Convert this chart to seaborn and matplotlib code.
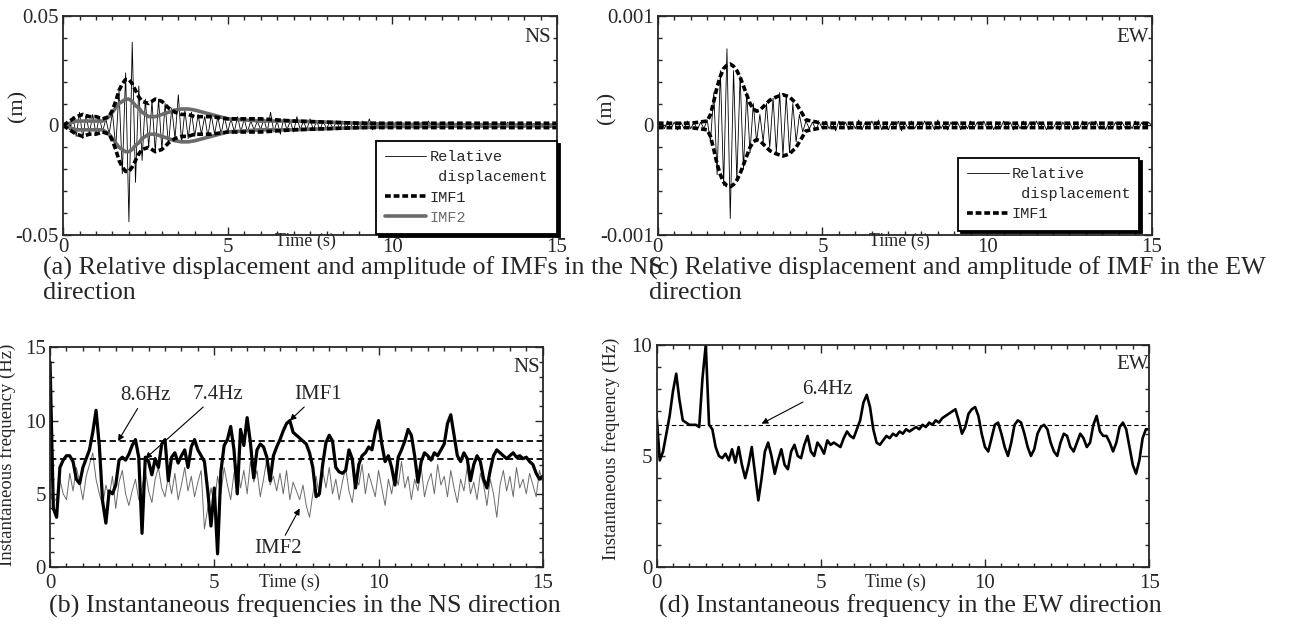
import numpy as np
import seaborn as sns
import matplotlib.pyplot as plt
from matplotlib.lines import Line2D
from matplotlib.ticker import MultipleLocator

# =========================
# Data
# =========================
# time grid of the sampled curves, 0 - 15 s every 0.1 s
t = np.round(np.arange(0, 151) * 0.1, 1)

# (a) NS relative displacement (m)
disp_ns = [
    0.0, 0.001, -0.002, 0.004, -0.005, 0.006, -0.006, 0.005, -0.004, 0.005,
    -0.004, 0.004, -0.003, 0.003, -0.004, 0.006, -0.010, 0.016, -0.022, 0.024,
    -0.044, 0.038, -0.026, 0.018, -0.016, 0.012, -0.010, 0.011, -0.012, 0.012,
    -0.011, 0.010, -0.009, 0.008, -0.006, 0.014, -0.008, 0.007, -0.006, 0.006,
    -0.005, 0.005, -0.004, 0.004, -0.005, 0.005, -0.004, 0.004, -0.004, 0.004,
    -0.003, 0.003, -0.003, 0.004, -0.003, 0.003, -0.003, 0.002, -0.002, 0.002,
    -0.002, 0.003, -0.003, 0.006, -0.003, 0.002, -0.004, 0.003, -0.002, 0.002,
    -0.003, 0.004, -0.002, 0.002, -0.002, 0.003, -0.002, 0.002, -0.002, 0.002,
    -0.0015, 0.0015, -0.0015, 0.002, -0.0015, 0.0015, -0.001, 0.0015, -0.001, 0.001,
    -0.0015, 0.002, -0.0015, 0.003, -0.002, 0.0015, -0.001, 0.0015, -0.001, 0.001,
    -0.001, 0.0015, -0.001, 0.001, -0.0015, 0.001, -0.001, 0.0015, -0.001, 0.0015,
    -0.0015, 0.002, -0.001, 0.001, -0.001, 0.001, -0.001, 0.0015, -0.001, 0.001,
    -0.001, 0.001, -0.001, 0.0015, -0.001, 0.001, -0.001, 0.001, -0.0015, 0.001,
    -0.001, 0.001, -0.001, 0.001, -0.001, 0.0015, -0.001, 0.001, -0.001, 0.001,
    -0.001, 0.001, -0.001, 0.001, -0.0015, 0.001, -0.001, 0.001, -0.001, 0.001,
    -0.001,
]

# (a) IMF amplitudes in NS (m)
env_t_ns = [0, 0.2, 0.4, 0.6, 0.8, 1.0, 1.2, 1.4,
            1.5, 1.6, 1.7, 1.8, 1.9, 2.0, 2.1, 2.2, 2.3, 2.4,
            2.6, 2.8, 3.0, 3.2, 3.4, 3.6, 3.8, 4.0,
            4.5, 5.0, 5.5, 6.0,
            7.0, 8.0, 9.0, 10.0, 11.0, 12.0, 13.0, 14.0, 15.0]
imf1_amp_ns = [0.0, 0.002, 0.004, 0.005, 0.004, 0.004, 0.003, 0.004,
               0.007, 0.011, 0.016, 0.019, 0.021, 0.021, 0.019, 0.016, 0.013, 0.011,
               0.010, 0.012, 0.011, 0.008, 0.006, 0.005, 0.005, 0.004,
               0.004, 0.003, 0.003, 0.003,
               0.002, 0.0015, 0.001, 0.001, 0.001, 0.001, 0.001, 0.001, 0.001]
imf2_amp_ns = [0.0, 0.001, 0.002, 0.002, 0.002, 0.002, 0.002, 0.004,
               0.006, 0.008, 0.010, 0.011, 0.012, 0.012, 0.011, 0.009, 0.008, 0.006,
               0.004, 0.004, 0.005, 0.006, 0.007, 0.0075, 0.0075, 0.007,
               0.005, 0.003, 0.0025, 0.002,
               0.002, 0.0015, 0.001, 0.0005, 0.0005, 0.0003, 0.0003, 0.0002, 0.0002]

# (c) EW relative displacement (m)
disp_ew = [
    0.0, 0.00003, -0.00003, 0.00004, -0.00003, 0.00003, -0.00004, 0.00003, -0.00003, 0.00004,
    -0.00003, 0.00003, -0.00004, 0.00003, -0.00003, 0.00005, -0.00015, 0.0003, -0.00045, 0.0005,
    -0.00055, 0.0007, -0.00085, 0.0005, -0.0005, 0.00045, -0.0004, 0.0003, -0.00025, 0.0002,
    -0.00015, 0.0001, -0.00015, 0.0002, -0.0002, 0.00025, -0.00025, 0.0003, -0.00028, 0.00028,
    -0.00025, 0.0002, -0.00015, 0.0001, -0.00006, 0.00004, -0.00003, 0.00003, -0.00004, 0.00003,
    -0.00003, 0.00004, -0.00003, 0.00003, -0.00005, 0.00004, -0.00003, 0.00003, -0.00004, 0.00003,
    -0.00003, 0.00005, -0.00004, 0.00003, -0.00003, 0.00004, -0.00003, 0.00005, -0.00004, 0.00003,
    -0.00004, 0.00003, -0.00003, 0.00004, -0.00005, 0.00003, -0.00003, 0.00004, -0.00003, 0.00003,
    -0.00003, 0.00004, -0.00003, 0.00003, -0.00004, 0.00005, -0.00003, 0.00003, -0.00004, 0.00003,
    -0.00003, 0.00003, -0.00004, 0.00003, -0.00003, 0.00004, -0.00003, 0.00003, -0.00003, 0.00004,
    -0.00003, 0.00003, -0.00004, 0.00003, -0.00003, 0.00004, -0.00003, 0.00003, -0.00004, 0.00003,
    -0.00003, 0.00004, -0.00003, 0.00003, -0.00003, 0.00004, -0.00003, 0.00003, -0.00004, 0.00003,
    -0.00003, 0.00003, -0.00004, 0.00003, -0.00003, 0.00003, -0.00004, 0.00003, -0.00003, 0.00004,
    -0.00003, 0.00003, -0.00003, 0.00004, -0.00003, 0.00003, -0.00004, 0.00003, -0.00003, 0.00003,
    -0.00004, 0.00003, -0.00003, 0.00003, -0.00003, 0.00004, -0.00003, 0.00003, -0.00003, 0.00003,
    0.0,
]

# (c) IMF1 amplitude in EW (m)
env_t_ew = [0, 0.5, 1.0, 1.5,
            1.6, 1.7, 1.8, 1.9, 2.0, 2.1, 2.2, 2.3, 2.4, 2.5,
            2.6, 2.7, 2.8, 2.9, 3.0, 3.1, 3.2, 3.3, 3.4,
            3.6, 3.8, 4.0, 4.2, 4.4, 4.5,
            5.0, 6.0, 7.0, 8.0, 9.0, 10.0, 11.0, 12.0, 13.0, 14.0, 15.0]
imf1_amp_ew = [0.00002, 0.00002, 0.00002, 0.00004,
               0.0001, 0.00022, 0.00035, 0.00045, 0.00052, 0.00055, 0.00056, 0.00054, 0.0005, 0.00044,
               0.00036, 0.00028, 0.0002, 0.00015, 0.00013, 0.00014, 0.00017, 0.0002, 0.00023,
               0.00026, 0.00028, 0.00026, 0.0002, 0.0001, 0.00005,
               0.00002, 0.00002, 0.00002, 0.00002, 0.00002, 0.00002, 0.00002, 0.00002,
               0.00002, 0.00002, 0.00002]

# (b) instantaneous frequencies NS (Hz)
freq_imf1_ns = [
    14.0, 4.0, 3.4, 6.8, 7.3, 7.6, 7.6, 7.2, 6.0, 5.7,
    6.8, 7.4, 8.0, 9.2, 10.7, 8.3, 4.5, 3.0, 5.2, 5.0,
    5.6, 7.3, 7.5, 7.3, 7.7, 8.3, 8.7, 7.5, 2.3, 7.5,
    7.2, 6.3, 7.4, 6.8, 8.4, 8.7, 5.9, 7.5, 7.8, 7.1,
    7.6, 8.0, 6.8, 8.2, 8.7, 8.0, 7.6, 7.2, 5.2, 2.8,
    5.4, 0.9, 6.5, 8.3, 8.7, 9.6, 8.0, 5.0, 9.4, 8.3,
    10.2, 8.5, 6.1, 8.0, 8.4, 8.2, 7.5, 5.9, 7.6, 8.2,
    8.7, 9.3, 9.8, 10.0, 9.2, 9.0, 8.8, 8.6, 8.4, 7.8,
    6.8, 4.8, 5.0, 7.0, 8.5, 9.0, 8.6, 6.8, 6.5, 6.4,
    6.6, 8.0, 7.4, 5.4, 7.0, 7.6, 7.8, 8.2, 8.0, 9.2,
    10.0, 8.4, 7.2, 7.6, 6.8, 5.6, 7.5, 8.0, 8.6, 9.4,
    9.0, 7.6, 5.8, 7.2, 7.8, 7.6, 7.3, 7.8, 7.6, 8.0,
    8.4, 9.8, 10.4, 9.0, 7.6, 7.2, 7.8, 7.4, 5.9, 7.0,
    7.6, 7.2, 6.0, 5.4, 6.6, 7.6, 8.0, 7.8, 7.6, 7.4,
    7.6, 7.8, 7.5, 7.6, 7.4, 7.5, 7.2, 7.0, 6.4, 6.0,
    6.2,
]
freq_imf2_ns = [
    5.0, 4.4, 4.7, 6.0, 5.0, 4.6, 6.4, 5.2, 6.8, 5.8,
    4.6, 6.2, 7.0, 7.8, 6.0, 5.0, 4.2, 5.6, 4.8, 6.2,
    4.0, 5.8, 6.6, 5.0, 4.2, 5.2, 6.0, 4.6, 5.4, 6.6,
    5.2, 4.4, 6.0, 6.8, 5.4, 4.8, 6.2, 5.0, 6.4, 4.6,
    5.6, 6.8, 5.2, 6.2, 4.8, 5.8, 6.6, 2.6, 4.0, 5.4,
    4.2, 6.2, 5.0, 6.8, 5.6, 4.6, 6.4, 7.0, 5.4, 6.6,
    5.0, 7.2, 5.8, 6.6, 4.8, 6.0, 7.4, 5.6, 6.2, 5.2,
    6.4, 5.0, 6.6, 4.6, 5.8, 5.2, 4.6, 5.6, 4.2, 3.4,
    5.0, 6.2, 4.8, 6.6, 5.4, 6.8, 5.0, 6.0, 4.6, 5.8,
    6.8, 5.2, 4.4, 6.2, 5.6, 7.0, 5.0, 6.4, 5.6, 4.8,
    6.6, 5.4, 4.2, 6.0, 5.0, 6.4, 5.6, 7.2, 5.4, 6.2,
    4.6, 6.0, 5.2, 6.8, 4.8, 5.8, 6.4, 5.0, 7.0, 5.6,
    6.2, 4.8, 6.6, 5.4, 4.4, 6.0, 5.2, 6.8, 5.0, 5.8,
    4.6, 6.4, 5.6, 4.2, 6.0, 5.0, 3.4, 5.6, 6.6, 5.2,
    6.2, 4.8, 6.8, 5.4, 6.0, 5.0, 6.4, 5.6, 4.8, 6.6,
    5.8,
]
ref_ns = [8.6, 7.4]

# (d) instantaneous frequency EW (Hz)
freq_imf1_ew = [
    6.9, 4.8, 5.2, 6.0, 6.8, 7.9, 8.7, 7.5, 6.6, 6.5,
    6.4, 6.4, 6.4, 6.3, 8.5, 10.0, 6.4, 6.2, 5.4, 5.0,
    4.9, 5.1, 4.8, 5.3, 4.7, 5.4, 4.6, 4.0, 4.6, 5.4,
    4.2, 3.0, 4.0, 5.2, 5.6, 5.0, 4.2, 4.8, 5.3, 4.6,
    4.4, 5.2, 5.5, 5.0, 4.9, 5.5, 5.9, 5.2, 5.0, 5.6,
    5.4, 5.1, 5.7, 5.5, 5.6, 5.5, 5.4, 5.8, 6.1, 5.9,
    5.8, 6.2, 6.6, 7.4, 7.75, 7.2, 6.2, 5.6, 5.5, 5.7,
    5.9, 5.8, 6.0, 5.9, 6.1, 6.0, 6.2, 6.1, 6.2, 6.3,
    6.2, 6.4, 6.3, 6.5, 6.4, 6.6, 6.5, 6.7, 6.8, 6.9,
    7.0, 7.1, 6.6, 6.0, 6.3, 6.9, 7.1, 7.2, 6.8, 6.0,
    5.4, 5.2, 5.8, 6.4, 6.5, 6.0, 5.4, 5.0, 5.6, 6.4,
    6.6, 6.5, 6.0, 5.4, 5.0, 5.3, 6.0, 6.3, 6.4, 6.2,
    5.6, 5.2, 5.0, 5.6, 6.0, 5.9, 5.4, 5.2, 5.6, 6.0,
    5.8, 5.4, 5.6, 6.4, 6.8, 6.1, 5.9, 5.9, 5.6, 5.2,
    5.6, 6.3, 6.5, 6.2, 5.4, 4.6, 4.2, 4.8, 5.8, 6.2,
    6.2,
]
ref_ew = 6.4

# =========================
# Style
# =========================
sns.set_style("ticks")
plt.rcParams["font.family"] = ["Liberation Serif", "DejaVu Serif"]
plt.rcParams["axes.linewidth"] = 1.3
plt.rcParams["xtick.direction"] = "in"
plt.rcParams["ytick.direction"] = "in"

GRAY = "#6b6b6b"
TICK_FS = 15
LABEL_FS = 15
CAP_FS = 18.8


def style_axes(ax, ymin, ymax, ymajor, yminor):
    ax.set_xlim(0, 15)
    ax.set_ylim(ymin, ymax)
    ax.xaxis.set_major_locator(MultipleLocator(5))
    ax.xaxis.set_minor_locator(MultipleLocator(0.5))
    ax.yaxis.set_major_locator(MultipleLocator(ymajor))
    ax.yaxis.set_minor_locator(MultipleLocator(yminor))
    ax.tick_params(which="both", direction="in", top=True, right=True,
                   labelsize=TICK_FS, width=1.0)
    ax.tick_params(which="major", length=6, pad=3)
    ax.tick_params(which="minor", length=3)
    ax.set_xlabel("")
    ax.set_ylabel("")


fig = plt.figure(figsize=(13, 6.35), dpi=100)

ax_a = fig.add_axes([0.0485, 0.630, 0.380, 0.345])
ax_c = fig.add_axes([0.506, 0.630, 0.380, 0.345])
ax_b = fig.add_axes([0.0385, 0.107, 0.379, 0.346])
ax_d = fig.add_axes([0.505, 0.107, 0.379, 0.350])

leg_kw = dict(loc="lower right", borderaxespad=0,
              prop={"family": "Liberation Mono", "size": 11}, frameon=True,
              fancybox=False, edgecolor="k", framealpha=1, handlelength=2.7,
              handletextpad=0.2, labelspacing=0.4, borderpad=0.6,
              shadow={"color": "k", "alpha": 1})
# second line of "Relative displacement" has no line of its own
blank = Line2D([], [], color="none")

# =========================
# (a) NS displacement
# =========================
sns.lineplot(x=t, y=disp_ns, ax=ax_a, color="k", lw=0.6, estimator=None, sort=False)
h_disp = ax_a.lines[-1]
sns.lineplot(x=env_t_ns, y=imf2_amp_ns, ax=ax_a, color=GRAY, lw=2.6, estimator=None)
h_imf2 = ax_a.lines[-1]
sns.lineplot(x=env_t_ns, y=[-v for v in imf2_amp_ns], ax=ax_a, color=GRAY, lw=2.6, estimator=None)
sns.lineplot(x=env_t_ns, y=imf1_amp_ns, ax=ax_a, color="k", lw=2.6, estimator=None)
h_imf1 = ax_a.lines[-1]
h_imf1.set_dashes([1.6, 0.8])
sns.lineplot(x=env_t_ns, y=[-v for v in imf1_amp_ns], ax=ax_a, color="k", lw=2.6, estimator=None)
ax_a.lines[-1].set_dashes([1.6, 0.8])

style_axes(ax_a, -0.05, 0.05, 0.05, 0.01)
ax_a.set_yticks([-0.05, 0, 0.05])
ax_a.set_yticklabels(["-0.05", "0", "0.05"])
ax_a.set_xticks([0, 5, 10, 15])
ax_a.set_xticklabels(["0", "5", "10", "15"])
ax_a.text(0.96, 0.90, "NS", transform=ax_a.transAxes, ha="center", va="center", fontsize=LABEL_FS)

leg = ax_a.legend([h_disp, blank, h_imf1, h_imf2],
                  ["Relative", " displacement", "IMF1", "IMF2"],
                  bbox_to_anchor=(1.0, 0.005), **leg_kw)
leg.get_frame().set_linewidth(1.3)
leg.get_texts()[3].set_color(GRAY)

# =========================
# (c) EW displacement
# =========================
sns.lineplot(x=t, y=disp_ew, ax=ax_c, color="k", lw=0.6, estimator=None, sort=False)
h_disp_c = ax_c.lines[-1]
sns.lineplot(x=env_t_ew, y=imf1_amp_ew, ax=ax_c, color="k", lw=2.6, estimator=None)
h_imf1_c = ax_c.lines[-1]
h_imf1_c.set_dashes([1.6, 0.8])
sns.lineplot(x=env_t_ew, y=[-v for v in imf1_amp_ew], ax=ax_c, color="k", lw=2.6, estimator=None)
ax_c.lines[-1].set_dashes([1.6, 0.8])

style_axes(ax_c, -0.001, 0.001, 0.001, 0.0002)
ax_c.set_yticks([-0.001, 0, 0.001])
ax_c.set_yticklabels(["-0.001", "0", "0.001"])
ax_c.set_xticks([0, 5, 10, 15])
ax_c.set_xticklabels(["0", "5", "10", "15"])
ax_c.text(0.962, 0.90, "EW", transform=ax_c.transAxes, ha="center", va="center", fontsize=LABEL_FS)

leg_c = ax_c.legend([h_disp_c, blank, h_imf1_c], ["Relative", " displacement", "IMF1"],
                    bbox_to_anchor=(0.975, 0.02), **leg_kw)
leg_c.get_frame().set_linewidth(1.3)

for ax in (ax_a, ax_c):
    ax.text(0.49, -0.03, "Time (s)", transform=ax.transAxes, ha="center", va="center",
            fontsize=13)
    ax.set_ylabel("(m)", fontsize=16)
    ax.tick_params(axis="x", pad=2)
ax_a.yaxis.set_label_coords(-0.073, 0.59)
ax_c.yaxis.set_label_coords(-0.083, 0.58)

# =========================
# (b) NS instantaneous frequency
# =========================
sns.lineplot(x=t, y=freq_imf2_ns, ax=ax_b, color=GRAY, lw=0.7, estimator=None, sort=False)
sns.lineplot(x=t, y=freq_imf1_ns, ax=ax_b, color="k", lw=2.3, estimator=None, sort=False)
for r in ref_ns:
    ax_b.axhline(r, color="k", lw=1.3, ls=(0, (3.5, 2)))

style_axes(ax_b, 0, 15, 5, 1)
ax_b.set_yticks([0, 5, 10, 15])
ax_b.set_xticks([0, 5, 10, 15])
ax_b.text(0.968, 0.91, "NS", transform=ax_b.transAxes, ha="center", va="center", fontsize=LABEL_FS)

arrow = dict(arrowstyle="-|>", color="k", lw=0.8, mutation_scale=9, shrinkA=0, shrinkB=0)
ax_b.annotate("8.6Hz", xy=(2.07, 8.6), xytext=(2.9, 11.7), ha="center", va="center",
              fontsize=LABEL_FS, arrowprops=arrow)
ax_b.annotate("7.4Hz", xy=(2.9, 7.4), xytext=(5.1, 11.8), ha="center", va="center",
              fontsize=LABEL_FS, arrowprops=arrow)
ax_b.annotate("IMF1", xy=(7.3, 10.0), xytext=(8.15, 11.8), ha="center", va="center",
              fontsize=LABEL_FS, arrowprops=arrow)
ax_b.annotate("IMF2", xy=(7.6, 4.0), xytext=(6.95, 1.3), ha="center", va="center",
              fontsize=LABEL_FS, arrowprops=arrow)

# =========================
# (d) EW instantaneous frequency
# =========================
sns.lineplot(x=t, y=freq_imf1_ew, ax=ax_d, color="k", lw=1.9, estimator=None, sort=False)
ax_d.axhline(ref_ew, color="k", lw=0.8, ls=(0, (4, 2.5)))

style_axes(ax_d, 0, 10, 5, 1)
ax_d.set_yticks([0, 5, 10])
ax_d.set_xticks([0, 5, 10, 15])
ax_d.text(0.966, 0.91, "EW", transform=ax_d.transAxes, ha="center", va="center", fontsize=LABEL_FS)
ax_d.annotate("6.4Hz", xy=(3.2, 6.45), xytext=(5.2, 8.0), ha="center", va="center",
              fontsize=LABEL_FS, arrowprops=arrow)

for ax in (ax_b, ax_d):
    ax.text(0.485, -0.07, "Time (s)", transform=ax.transAxes, ha="center", va="center",
            fontsize=13)
    ax.set_ylabel("Instantaneous frequency (Hz)", fontsize=13.5)
    ax.tick_params(axis="x", pad=5)
ax_b.yaxis.set_label_coords(-0.069, 0.51)
ax_d.yaxis.set_label_coords(-0.075, 0.53)

# =========================
# Captions
# =========================
fig.text(0.033, 1 - 268 / 635, "(a) Relative displacement and amplitude of IMFs in the NS",
         fontsize=CAP_FS, va="center")
fig.text(0.033, 1 - 293 / 635, "direction", fontsize=CAP_FS, va="center")
fig.text(0.4995, 1 - 268 / 635, "(c) Relative displacement and amplitude of IMF in the EW",
         fontsize=CAP_FS, va="center")
fig.text(0.4995, 1 - 293 / 635, "direction", fontsize=CAP_FS, va="center")
fig.text(0.038, 1 - 606 / 635, "(b) Instantaneous frequencies in the NS direction",
         fontsize=CAP_FS, va="center")
fig.text(0.507, 1 - 606 / 635, "(d) Instantaneous frequency in the EW direction",
         fontsize=CAP_FS, va="center")

plt.savefig("out.png", dpi=100)
